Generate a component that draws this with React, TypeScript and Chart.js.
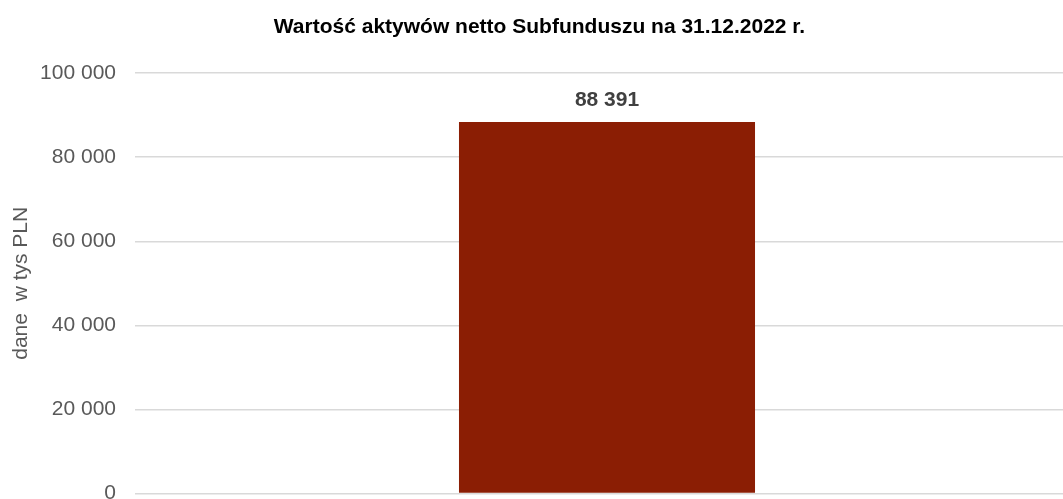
import React, { useEffect, useRef } from "react";
import { Chart, registerables } from "chart.js";

Chart.register(...registerables);

const categories: string[] = [""];
const values: number[] = [88391];
const yTicks: number[] = [0, 20000, 40000, 60000, 80000, 100000];
const titleText = "Wartość aktywów netto Subfunduszu na 31.12.2022 r.";
const yAxisTitle = "dane  w tys PLN";

const fmt = (v: number) =>
  Math.round(v)
    .toString()
    .replace(/\B(?=(\d{3})+(?!\d))/g, " ");

const FONT = "'Liberation Sans', Arial, sans-serif";

const labelPlugin = {
  id: "valueLabels",
  afterDatasetsDraw(chart: any) {
    const ctx = chart.ctx;
    const meta = chart.getDatasetMeta(0);
    ctx.save();
    ctx.font = `bold 21px ${FONT}`;
    ctx.fillStyle = "#404040";
    ctx.textAlign = "center";
    ctx.textBaseline = "middle";
    meta.data.forEach((el: any, i: number) => {
      ctx.fillText(fmt(values[i]), el.x, el.y - 22);
    });
    ctx.restore();
  },
};

export default function App() {
  const ref = useRef<HTMLCanvasElement>(null);
  useEffect(() => {
    if (!ref.current) return;
    const chart = new Chart(ref.current, {
      type: "bar",
      data: {
        labels: categories,
        datasets: [
          {
            data: values,
            backgroundColor: "#8B1E04",
            borderWidth: 0,
            categoryPercentage: 1,
            barPercentage: 0.3136,
          },
        ],
      },
      options: {
        responsive: false,
        animation: false,
        layout: { padding: { top: 0, right: 6, bottom: 13, left: 0 } },
        plugins: {
          legend: { display: false },
          tooltip: { enabled: false },
          title: {
            display: true,
            text: titleText,
            color: "#000000",
            font: { family: FONT, size: 21, weight: "bold" },
            padding: { top: 15, bottom: 33 },
          },
        },
        scales: {
          x: {
            grid: { display: false },
            border: { display: false },
            ticks: { display: false },
          },
          y: {
            min: 0,
            max: 100000,
            afterBuildTicks: (axis: any) => {
              axis.ticks = yTicks.map((v) => ({ value: v }));
            },
            afterFit: (axis: any) => {
              axis.width = 135;
            },
            grid: { color: "#d9d9d9", lineWidth: 1.5, drawTicks: false },
            border: { display: false },
            ticks: {
              color: "#595959",
              font: { family: FONT, size: 21 },
              padding: 19,
              callback: (v: any) => fmt(Number(v)),
            },
            title: {
              display: true,
              text: yAxisTitle,
              color: "#595959",
              font: { family: FONT, size: 21 },
              padding: { top: 9, bottom: 7 },
            },
          },
        },
      },
      plugins: [labelPlugin],
    });
    return () => chart.destroy();
  }, []);
  return (
    <div
      style={{
        position: "fixed",
        left: 0,
        top: 0,
        width: 1063,
        height: 499,
        overflow: "hidden",
        background: "#ffffff",
      }}
    >
      <canvas ref={ref} width={1085} height={525} />
    </div>
  );
}
